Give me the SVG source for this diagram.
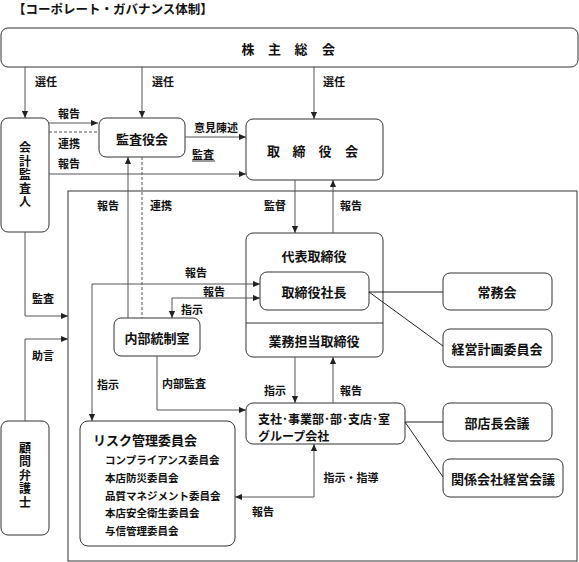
<svg xmlns="http://www.w3.org/2000/svg" width="579" height="562" viewBox="0 0 579 562">
<style>
text{font-family:"Noto Sans CJK JP","Noto Sans",sans-serif;font-weight:bold;fill:#111;font-size:11px;dominant-baseline:central}
.n rect{fill:#fff;stroke:#333;stroke-width:1}
.nt{font-size:13px;text-anchor:middle}
.vt{font-size:12px;text-anchor:middle;writing-mode:vertical-rl;letter-spacing:1.5px}
.lb{text-anchor:middle}
.c{fill:none;stroke:#555;stroke-width:1}
.d{stroke-dasharray:3,2}
.s{font-size:10.5px}
</style>
<defs>
<marker id="ah" viewBox="0 0 8 8" refX="8" refY="4" markerWidth="7" markerHeight="7" orient="auto-start-reverse" markerUnits="userSpaceOnUse">
<path d="M0,0.5 L8,4 L0,7.5 Z" fill="#222"/>
</marker>
</defs>
<rect width="579" height="562" fill="#fff"/>
<text x="13" y="8" style="font-size:12.5px">【コーポレート・ガバナンス体制】</text>

<g id="shareholders" class="n">
<rect x="1" y="28" width="577" height="39" rx="7"/>
<text x="248" y="48" class="nt">株</text>
<text x="274.5" y="48" class="nt">主</text>
<text x="301" y="48" class="nt">総</text>
<text x="328.5" y="48" class="nt">会</text>
</g>
<g id="auditor" class="n">
<rect x="1" y="118" width="48" height="114" rx="7"/>
<text x="25" y="175.5" class="vt">会計監査人</text>
</g>
<g id="audit-board" class="n">
<rect x="99" y="118" width="86" height="39" rx="7"/>
<text x="142" y="138" class="nt">監査役会</text>
</g>
<g id="board" class="n">
<rect x="246" y="119" width="137" height="61" rx="7"/>
<text x="273.5" y="150" class="nt">取</text>
<text x="299" y="150" class="nt">締</text>
<text x="325" y="150" class="nt">役</text>
<text x="351.5" y="150" class="nt">会</text>
</g>
<g id="rep-director" class="n">
<rect x="246" y="233" width="137" height="124" rx="7"/>
<line x1="246" y1="323" x2="383" y2="323" stroke="#333"/>
<text x="314" y="255" class="nt">代表取締役</text>
<text x="314" y="340" class="nt">業務担当取締役</text>
</g>
<g id="president" class="n">
<rect x="260" y="272" width="109" height="38" rx="7"/>
<text x="314" y="291" class="nt">取締役社長</text>
</g>
<g id="jomukai" class="n">
<rect x="443" y="273" width="109" height="37" rx="7"/>
<text x="497" y="291" class="nt">常務会</text>
</g>
<g id="keiei-keikaku" class="n">
<rect x="443" y="329" width="109" height="38" rx="7"/>
<text x="497" y="348" class="nt">経営計画委員会</text>
</g>
<g id="internal-control" class="n">
<rect x="114" y="318" width="86" height="38" rx="7"/>
<text x="157" y="337" class="nt">内部統制室</text>
</g>
<g id="branches" class="n">
<rect x="246" y="403" width="159" height="41" rx="7"/>
<text x="258" y="418" style="font-size:12px">支社･事業部･部･支店･室</text>
<text x="258" y="435" style="font-size:12px">グループ会社</text>
</g>
<g id="buten-cho" class="n">
<rect x="443" y="403" width="109" height="38" rx="7"/>
<text x="497" y="422" class="nt">部店長会議</text>
</g>
<g id="kankei-kaisha" class="n">
<rect x="443" y="459" width="120" height="38" rx="7"/>
<text x="503" y="478" class="nt">関係会社経営会議</text>
</g>
<g id="risk" class="n">
<rect x="80" y="421" width="155" height="125" rx="8"/>
<text x="93" y="439" style="font-size:13px">リスク管理委員会</text>
<text x="105" y="459" class="s">コンプライアンス委員会</text>
<text x="105" y="477" class="s">本店防災委員会</text>
<text x="105" y="495" class="s">品質マネジメント委員会</text>
<text x="105" y="512" class="s">本店安全衛生委員会</text>
<text x="105" y="530" class="s">与信管理委員会</text>
</g>
<g id="lawyer" class="n">
<rect x="1" y="421" width="48" height="114" rx="7"/>
<text x="25" y="476" class="vt">顧問弁護士</text>
</g>

<g id="connectors">
<rect x="68" y="191" width="509" height="370" class="c" style="stroke:#333"/>
<line x1="25" y1="67" x2="25" y2="118" class="c" marker-end="url(#ah)"/>
<line x1="142" y1="67" x2="142" y2="118" class="c" marker-end="url(#ah)"/>
<line x1="314" y1="67" x2="314" y2="119" class="c" marker-end="url(#ah)"/>
<line x1="49" y1="123" x2="98" y2="123" class="c" marker-end="url(#ah)"/>
<line x1="49" y1="132" x2="99" y2="132" class="c d"/>
<line x1="49" y1="174" x2="246" y2="174" class="c" marker-end="url(#ah)"/>
<line x1="185" y1="137" x2="246" y2="137" class="c" marker-end="url(#ah)"/>
<line x1="128" y1="318" x2="128" y2="157" class="c" marker-end="url(#ah)"/>
<line x1="142" y1="157" x2="142" y2="318" class="c d"/>
<line x1="295" y1="180" x2="295" y2="233" class="c" marker-end="url(#ah)"/>
<line x1="333" y1="233" x2="333" y2="180" class="c" marker-end="url(#ah)"/>
<polyline points="92,421 92,284 260,284" class="c" marker-start="url(#ah)" marker-end="url(#ah)"/>
<polyline points="172,318 172,298 260,298" class="c" marker-start="url(#ah)" marker-end="url(#ah)"/>
<line x1="369" y1="292" x2="443" y2="292" class="c" style="stroke:#222"/>
<line x1="369" y1="292" x2="443" y2="346" class="c" style="stroke:#222"/>
<polyline points="25,232 25,316 68,316" class="c" marker-end="url(#ah)"/>
<polyline points="25,421 25,339 68,339" class="c" marker-end="url(#ah)"/>
<polyline points="157,356 157,410 246,410" class="c" marker-end="url(#ah)"/>
<line x1="295" y1="357" x2="295" y2="403" class="c" marker-end="url(#ah)"/>
<line x1="333" y1="403" x2="333" y2="357" class="c" marker-end="url(#ah)"/>
<line x1="405" y1="422" x2="443" y2="422" class="c" style="stroke:#222"/>
<line x1="405" y1="422" x2="443" y2="477" class="c" style="stroke:#222"/>
<polyline points="235,497 314,497 314,444" class="c" marker-start="url(#ah)" marker-end="url(#ah)"/>
</g>

<g id="labels">
<text x="46" y="81" class="lb">選任</text>
<text x="163" y="81" class="lb">選任</text>
<text x="334" y="81" class="lb">選任</text>
<text x="69" y="113" class="lb">報告</text>
<text x="69" y="143" class="lb">連携</text>
<text x="69" y="163" class="lb">報告</text>
<text x="216" y="127" class="lb">意見陳述</text>
<text x="203" y="154" class="lb">監査</text>
<line x1="192" y1="161" x2="215" y2="161" stroke="#333" stroke-width="1"/>
<text x="108" y="205" class="lb">報告</text>
<text x="161" y="205" class="lb">連携</text>
<text x="275" y="205" class="lb">監督</text>
<text x="351" y="205" class="lb">報告</text>
<text x="196" y="272" class="lb">報告</text>
<text x="214" y="291" class="lb">報告</text>
<text x="192" y="309" class="lb">指示</text>
<text x="43" y="298" class="lb">監査</text>
<text x="43" y="355" class="lb">助言</text>
<text x="108" y="384" class="lb">指示</text>
<text x="184" y="383" class="lb">内部監査</text>
<text x="275" y="390" class="lb">指示</text>
<text x="351" y="390" class="lb">報告</text>
<text x="351" y="477" class="lb">指示・指導</text>
<text x="263" y="511" class="lb">報告</text>
</g>
</svg>
